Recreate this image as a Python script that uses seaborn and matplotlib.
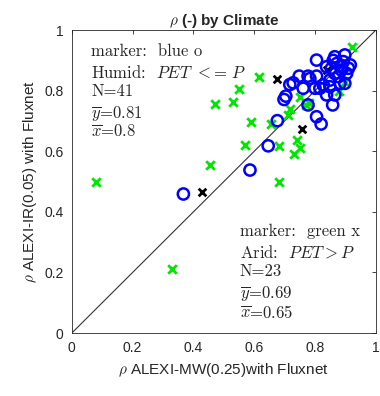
import matplotlib
matplotlib.use("Agg")
import matplotlib.pyplot as plt
import seaborn as sns
import numpy as np
import pandas as pd

sns.set_style("white")
plt.rcParams['font.family'] = ['Liberation Sans', 'DejaVu Sans']
plt.rcParams['mathtext.fontset'] = 'cm'

# Humid sites (blue circles)
humid_x = [0.367, 0.586, 0.646, 0.676, 0.698, 0.704, 0.728, 0.748, 0.761, 0.777,
           0.777, 0.805, 0.805, 0.800, 0.805, 0.820, 0.827, 0.838, 0.849, 0.858,
           0.865, 0.865, 0.865, 0.882, 0.887, 0.893, 0.898, 0.904, 0.910, 0.916,
           0.898, 0.877, 0.854, 0.838, 0.887, 0.872, 0.849, 0.816, 0.783, 0.717,
           0.860]
humid_y = [0.459, 0.538, 0.618, 0.701, 0.771, 0.782, 0.826, 0.848, 0.808, 0.753,
           0.848, 0.848, 0.901, 0.808, 0.714, 0.690, 0.819, 0.786, 0.835, 0.753,
           0.786, 0.857, 0.912, 0.824, 0.879, 0.896, 0.918, 0.857, 0.874, 0.885,
           0.824, 0.846, 0.874, 0.879, 0.868, 0.890, 0.813, 0.808, 0.840, 0.820,
           0.900]

# Arid sites (green x)
arid_x = [0.080, 0.330, 0.455, 0.470, 0.530, 0.550, 0.617, 0.590, 0.570, 0.654,
          0.680, 0.682, 0.712, 0.717, 0.740, 0.750, 0.730, 0.750, 0.770, 0.923,
          0.780, 0.880, 0.900]
arid_y = [0.500, 0.210, 0.555, 0.756, 0.764, 0.804, 0.844, 0.698, 0.620, 0.690,
          0.618, 0.497, 0.720, 0.738, 0.637, 0.610, 0.590, 0.780, 0.753, 0.945,
          0.760, 0.800, 0.830]

# Other sites (black x)
other_x = [0.674, 0.756, 0.427, 0.838]
other_y = [0.838, 0.672, 0.467, 0.868]

ticks = [0, 0.2, 0.4, 0.6, 0.8, 1]
tick_labels = ["0", "0.2", "0.4", "0.6", "0.8", "1"]

fig = plt.figure(figsize=(3.8, 3.96), dpi=100)
ax = fig.add_axes([0.189, 0.159, 0.800, 0.765])

ax.plot([0, 1], [0, 1], color="#333333", lw=0.8, zorder=1)

df_h = pd.DataFrame({"x": humid_x, "y": humid_y})
df_a = pd.DataFrame({"x": arid_x, "y": arid_y})
df_o = pd.DataFrame({"x": other_x, "y": other_y})

sns.scatterplot(data=df_a, x="x", y="y", marker="x", color="#00e600", s=38,
                linewidth=2.0, ax=ax, zorder=2)
sns.scatterplot(data=df_o, x="x", y="y", marker="x", color="black", s=30,
                linewidth=2.0, ax=ax, zorder=3)
sns.scatterplot(data=df_h, x="x", y="y", marker="o", facecolor="none",
                edgecolor="#0000ff", s=65, linewidth=1.8, ax=ax, zorder=4)

ax.set_xlim(0, 1)
ax.set_ylim(0, 1)
ax.set_xticks(ticks)
ax.set_xticklabels(tick_labels)
ax.set_yticks(ticks)
ax.set_yticklabels(tick_labels)
ax.tick_params(direction="in", length=3, width=0.6, top=True, right=True,
               labelsize=10, colors="#262626", pad=6)
for sp in ax.spines.values():
    sp.set_color("#262626")
    sp.set_linewidth(0.6)

ax.set_xlabel(r"$\rho$ ALEXI-MW(0.25)with Fluxnet", fontsize=11, color="#262626", labelpad=4)
ax.set_ylabel(r"$\rho$ ALEXI-IR(0.05) with Fluxnet", fontsize=11, color="#262626", labelpad=4)
ax.set_title(r"$\rho$ (-) by Climate", fontsize=11, fontweight="bold", pad=4)

humid_lines = ["marker:  blue o",
               r"Humid:  $PET$ $<$= $P$",
               "N=41",
               r"$\overline{y}$=0.81",
               r"$\overline{x}$=0.8"]
arid_lines = ["marker:  green x",
              r"Arid:  $PET > P$",
              "N=23",
              r"$\overline{y}$=0.69",
              r"$\overline{x}$=0.65"]
for i, t in enumerate(humid_lines):
    ax.text(0.063, 0.955 - i * 0.066, t, fontsize=12, va="top", ha="left",
            color="#262626", family="cmr10")
for i, t in enumerate(arid_lines):
    ax.text(0.553, 0.36 - i * 0.066, t, fontsize=12, va="top", ha="left",
            color="#262626", family="cmr10")

fig.savefig("out.png", dpi=100)
